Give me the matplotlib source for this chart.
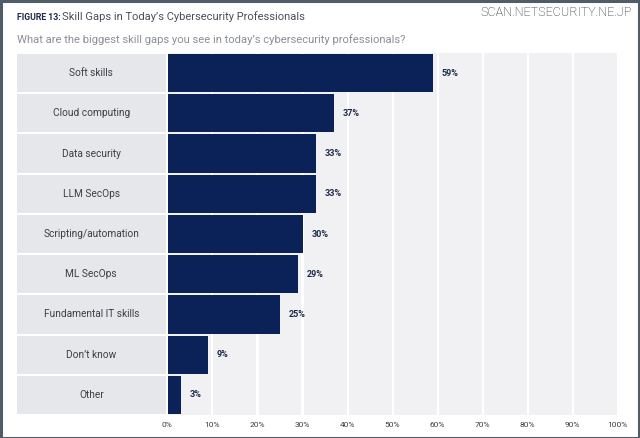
import matplotlib.pyplot as plt
from matplotlib.patches import Rectangle

# data
categories = ["Soft skills", "Cloud computing", "Data security", "LLM SecOps",
              "Scripting/automation", "ML SecOps", "Fundamental IT skills",
              "Don\u2019t know", "Other"]
values = [59, 37, 33, 33, 30, 29, 25, 9, 3]
tick_values = list(range(0, 101, 10))
tick_labels = [f"{v}%" for v in tick_values]

NAVY = "#0b2259"
LABEL_BG = "#e6e7ea"
COL_BG = "#f1f1f3"
TXT = "#3a3f47"

plt.rcParams["font.family"] = ["Roboto", "DejaVu Sans"]

fig = plt.figure(figsize=(6.4, 4.38), dpi=100)
W, H = 640, 438

# outer frame
fig.patches.append(Rectangle((0.5 / W, 0.5 / H), 1 - 1.5 / W, 1 - 1.5 / H,
                             transform=fig.transFigure, fill=False,
                             edgecolor="#4f5d6b", linewidth=2.2))

x_left = -33.4
ax = fig.add_axes([17 / W, 1 - 415 / H, (617.5 - 17) / W, (415 - 53) / H])
ax.set_xlim(x_left, 100)
n = len(categories)
ax.set_ylim(n - 0.5, -0.5)
ax.axis("off")

# background columns
for i in range(10):
    ax.axvspan(i * 10 + 0.25, (i + 1) * 10 - 0.2, color=COL_BG, lw=0, zorder=0)

ypos = list(range(n))
bh = 0.95
# label cells
ax.barh(ypos, [-x_left - 0.4] * n, left=x_left, height=bh, color=LABEL_BG, zorder=1)
for y, c in zip(ypos, categories):
    ax.text(x_left / 2 - 0.2, y, c, ha="center", va="center", fontsize=7.3,
            color=TXT, zorder=3)

# bars
ax.barh(ypos, values, left=0.05, height=bh, color=NAVY, zorder=2)
for y, v in zip(ypos, values):
    ax.text(v + 2.0, y, f"{v}%", ha="left", va="center", fontsize=6.5,
            fontweight="bold", color="#1d2b4a", zorder=3)

# tick labels
for v, lab in zip(tick_values, tick_labels):
    ax.text(v, n - 0.5 + 0.25, lab, ha="center", va="center", fontsize=6,
            color=TXT, clip_on=False)

# titles
fig.text(17 / W, 1 - 17 / H, "FIGURE 13:", fontsize=6.3, fontweight="bold",
         color="#1d2b4a", va="center", ha="left")
fig.text(62 / W, 1 - 17 / H, "Skill Gaps in Today\u2019s Cybersecurity Professionals",
         fontsize=8, color="#4a4f57", va="center", ha="left")
fig.text(17 / W, 1 - 40 / H,
         "What are the biggest skill gaps you see in today\u2019s cybersecurity professionals?",
         fontsize=8.1, color="#8a8e96", va="center", ha="left")
fig.text(632 / W, 1 - 12 / H, "SCAN.NETSECURITY.NE.JP", fontsize=9,
         color="#1a1a1a", va="center", ha="right", fontweight="light")

fig.savefig("out.png", dpi=100)
